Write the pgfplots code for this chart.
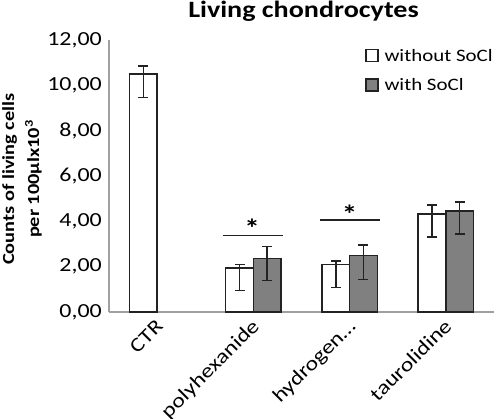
\documentclass[border=0pt]{standalone}
\usepackage{pgfplots}
\pgfplotsset{compat=1.18}
\usepackage{pgfplotstable}
\usepackage{fontspec}
\setmainfont{Carlito}[FakeStretch=1.2]
\definecolor{barline}{HTML}{222222}
\definecolor{grayfill}{HTML}{808080}
\definecolor{axgray}{HTML}{A0A0A0}
\pgfplotstableread{
x y ep em
-0.144 10.50 0.35 1.03
0.856 1.95 0.15 1.01
1.856 2.09 0.16 1.00
2.856 4.32 0.39 1.01
}\without
\pgfplotstableread{
x y ep em
1.144 2.37 0.51 0.99
2.144 2.50 0.46 1.06
3.144 4.46 0.39 1.01
}\withs
\begin{document}
\begin{tikzpicture}
\path[use as bounding box] (0,0) rectangle (496bp,419bp);
\begin{axis}[
  at={(109bp,107bp)}, anchor=south west,
  width=385bp, height=272bp, scale only axis,
  xmin=-0.5, xmax=3.5, ymin=0, ymax=12,
  axis x line*=bottom, axis y line*=left,
  axis line style={draw=axgray, line width=1.3bp, -},
  major tick length=0pt, tick style={draw=none},
  xtick={0,1,2,3},
  xticklabels={CTR,polyhexanide,hydrogen\ldots,taurolidine},
  xticklabel style={font=\fontsize{20}{22}\selectfont, xshift=7bp, yshift=-15.5bp, rotate=45, anchor=base east, inner sep=0pt},
  ytick={0,2,...,12},
  yticklabel style={font=\fontsize{20}{22}\selectfont, anchor=east, inner sep=0pt, xshift=-7bp},
  /pgf/number format/.cd, use comma, fixed, fixed zerofill, precision=2, assume math mode=true,
  /pgfplots/.cd,
  legend style={at={(0.665,0.975)}, anchor=north west, draw=none, fill=none,
    font=\fontsize{17.5}{21}\selectfont, row sep=12bp, inner sep=0pt,
    /tikz/every odd column/.append style={column sep=4bp}},
  legend cell align=left,
  legend image code/.code={\draw[#1, line width=1.3bp] (0bp,-5.5bp) rectangle (12bp,6.5bp);},
  clip=false,
]
\addplot[ybar, bar width=0.288, bar shift=0pt, fill=white, draw=barline, line width=1.5bp,
  error bars/.cd, y dir=both, y explicit,
  error bar style={line width=1.5bp, draw=barline},
  error mark options={mark size=5bp, line width=1.5bp, draw=barline, rotate=90}]
  table[x=x, y=y, y error plus=ep, y error minus=em] {\without};
\addlegendentry{without SoCl}
\addplot[ybar, bar width=0.288, bar shift=0pt, fill=grayfill, draw=barline, line width=1.5bp,
  error bars/.cd, y dir=both, y explicit,
  error bar style={line width=1.5bp, draw=barline},
  error mark options={mark size=5bp, line width=1.5bp, draw=barline, rotate=90}]
  table[x=x, y=y, y error plus=ep, y error minus=em] {\withs};
\addlegendentry{with SoCl}
\draw[line width=1.2bp, barline] (axis cs:0.68,3.37) -- (axis cs:1.305,3.37);
\draw[line width=1.2bp, barline] (axis cs:1.69,4.06) -- (axis cs:2.32,4.06);
\node[font=\bfseries\fontsize{26}{28}\selectfont, anchor=base, yshift=-14bp] at (axis cs:0.986,3.91) {*};
\node[font=\bfseries\fontsize{26}{28}\selectfont, anchor=base, yshift=-14bp] at (axis cs:2.0,4.54) {*};
\end{axis}
\node[font=\bfseries\fontsize{23.5}{24}\selectfont, anchor=base] at (303.5bp,401bp) {Living chondrocytes};
\node[font=\bfseries\fontsize{17}{25}\selectfont, rotate=90, align=center] at (22bp,240bp) {Counts of living cells\\per 100µlx10\textsuperscript{3}};
\end{tikzpicture}
\end{document}
